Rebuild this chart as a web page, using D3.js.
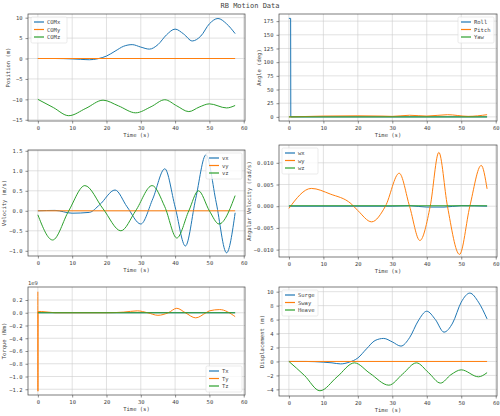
<!DOCTYPE html>
<html><head><meta charset="utf-8">
<script src="https://cdn.jsdelivr.net/npm/d3@7"></script>
<style>body{margin:0;background:#fff}text{font-family:"DejaVu Sans Mono",monospace;fill:#444}</style>
</head><body><svg id="c" width="500" height="416"></svg>
<script>
// series: each with its own sample times (read at extrema / crossings)
var posXT = [0,5,10,12.5,15,17.5,20,22.5,25,27.5,30,32.5,35,37.5,40,42.5,45,47.5,50,52.5,55,57.5];
var posXV = [0,0,-0.1,-0.2,-0.3,-0.05,0.6,1.8,3.0,3.4,2.8,2.3,3.4,5.8,7.2,6.0,4.3,5.5,8.5,9.8,8.5,6.1];
var posYT = [0,57.5], posYV = [0,0];
var posZT = [0,4.5,9,14,19,23.5,28.5,33,37,40.5,44,47,50,55,57.5];
var posZV = [-10,-12,-14,-12.2,-10.2,-11.6,-13.3,-11.8,-10.1,-11.6,-13,-11.9,-11.1,-12.1,-11.5];

var rollT = [0,0.5,0.55,57.5], rollV = [180,180,0,0];
var pitchT = [0,10,20,27,30,35,40,46,52,57.5], pitchV = [0,1.5,2,1.5,1,3,1.5,4,1,4];
var yawT = [0,57.5], yawV = [0,0];

var vxT = [0,5,10,15,18,22.5,26,30,33.5,37,40,43,46,49,52,55,57.5];
var vxV = [0,0.01,-0.06,-0.04,0.15,0.52,0.1,-0.33,0.3,1.05,0.1,-0.88,0.3,1.4,0.2,-1.05,-0.05];
var vyT = [0,57.5], vyV = [0,0];
var vzT = [0,4.3,9,13.7,19,24.2,28.5,33.3,37,40.5,44,46.8,50,52.8,57.5];
var vzV = [-0.1,-0.73,0,0.63,0.05,-0.5,0,0.63,0.1,-0.68,0,0.5,0,-0.33,0.38];

var wxT = [0,30,35,40,45,50,57.5], wxV = [0,0,0.0001,-0.0002,-0.0002,0.0001,0];
var wyT = [0,6.5,12,18,20,24,28,32,35,38,41,43.5,46,49.5,52.5,55.8,57.5];
var wyV = [-0.0005,0.0041,0.0028,0.0006,-0.001,-0.0036,0,0.0076,0,-0.0079,0,0.0124,0,-0.0111,0,0.0094,0.004];
var wzT = [0,57.5], wzV = [0.0001,0.0001];

var txT = [0,57.5], txV = [0,0];
var tyT = [0,0.02,0.05,1,5,20,25,29,32,35,38,40.5,43,46,49,50,53,57.5];
var tyV = [0.33,-1.23,0.02,0.02,0,0,0.01,0.03,0,-0.04,0,0.07,0,-0.08,0,0.03,0.05,-0.06];
var tzT = [0,57.5], tzV = [0,0];

var surgeT = posXT, surgeV = [0,0,-0.1,-0.2,-0.35,-0.1,0.5,1.8,3.0,3.3,2.8,2.2,3.4,5.8,7.2,6.0,4.2,5.5,8.5,9.8,8.5,6.1];
var swayT = [0,57.5], swayV = [0,0];
var heaveT = [0,4.5,9,14,19,23.5,29,33,37,40.5,44,47,50,55,57.5];
var heaveV = [0,-2,-4.2,-2.2,-0.2,-1.7,-3.4,-1.8,-0.2,-1.6,-3.1,-1.9,-1.2,-2.2,-1.6];

var xTicks = [0,10,20,30,40,50,60];
var colors = ["#1f77b4","#ff7f0e","#2ca02c"];

var panels = [
  {box:[28,14,245,121], y:[-15.3,10.9], ticks:[-15,-10,-5,0,5,10], fmt:d3.format("d"), ylab:"Position (m)",
   series:[["COMx",posXT,posXV],["COMy",posYT,posYV],["COMz",posZT,posZV]], leg:"ul"},
  {box:[279,14,497,121], y:[-7.5,188], ticks:[0,25,50,75,100,125,150,175], fmt:d3.format("d"), ylab:"Angle (deg)",
   series:[["Roll",rollT,rollV],["Pitch",pitchT,pitchV],["Yaw",yawT,yawV]], leg:"ur", linear:[0]},
  {box:[28,150,245,256], y:[-1.13,1.52], ticks:[-1,-0.5,0,0.5,1,1.5], fmt:d3.format(".1f"), ylab:"Velocity (m/s)",
   series:[["vx",vxT,vxV],["vy",vyT,vyV],["vz",vzT,vzV]], leg:"ur"},
  {box:[279,145,497,257], y:[-0.0117,0.0141], ticks:[-0.01,-0.005,0,0.005,0.01], fmt:d3.format(".3f"), ylab:"Angular Velocity (rad/s)",
   series:[["wx",wxT,wxV],["wy",wyT,wyV],["wz",wzT,wzV]], leg:"ul"},
  {box:[28,287,245,395], y:[-1.29,0.404], ticks:[-1.2,-1,-0.8,-0.6,-0.4,-0.2,0,0.2], fmt:d3.format(".1f"), ylab:"Torque (Nm)",
   series:[["Tx",txT,txV],["Ty",tyT,tyV],["Tz",tzT,tzV]], leg:"lr", offset:"1e9"},
  {box:[279,287,497,396], y:[-4.95,10.67], ticks:[-4,-2,0,2,4,6,8,10], fmt:d3.format("d"), ylab:"Displacement (m)",
   series:[["Surge",surgeT,surgeV],["Sway",swayT,swayV],["Heave",heaveT,heaveV]], leg:"ul"}
];

var svg = d3.select("#c");
svg.append("text").attr("x",250).attr("y",8).attr("text-anchor","middle").attr("font-size",7).text("RB Motion Data");

panels.forEach(function(p) {
  var b = p.box;
  var x = d3.scaleLinear().domain([-2.875,60.375]).range([b[0],b[2]]);
  var y = d3.scaleLinear().domain(p.y).range([b[3],b[1]]);
  var g = svg.append("g");

  //grid
  g.selectAll(".gx").data(xTicks).enter().append("line")
    .attr("x1",function(d){return x(d);}).attr("x2",function(d){return x(d);})
    .attr("y1",b[1]).attr("y2",b[3]).attr("stroke","#ccc").attr("stroke-width",0.6);
  g.selectAll(".gy").data(p.ticks).enter().append("line")
    .attr("y1",function(d){return y(d);}).attr("y2",function(d){return y(d);})
    .attr("x1",b[0]).attr("x2",b[2]).attr("stroke","#ccc").attr("stroke-width",0.6);

  var ax = g.append("g").attr("transform","translate(0,"+b[3]+")")
    .call(d3.axisBottom(x).tickValues(xTicks).tickSize(2.5).tickFormat(d3.format("d")));
  var ay = g.append("g").attr("transform","translate("+b[0]+",0)")
    .call(d3.axisLeft(y).tickValues(p.ticks).tickSize(2.5).tickFormat(function(d){return p.fmt(d).replace("-","\u2212");}));
  [ax,ay].forEach(function(a){
    a.select(".domain").remove();
    a.selectAll("text").attr("font-size",5.5).style("font-family","DejaVu Sans Mono").attr("fill","#444");
    a.selectAll("line").attr("stroke","#444").attr("stroke-width",0.6);
  });
  g.append("rect").attr("x",b[0]).attr("y",b[1]).attr("width",b[2]-b[0]).attr("height",b[3]-b[1])
    .attr("fill","none").attr("stroke","#444").attr("stroke-width",0.7);

  g.append("text").attr("x",(b[0]+b[2])/2).attr("y",b[3]+16).attr("text-anchor","middle").attr("font-size",5.5).text("Time (s)");
  var maxLen = d3.max(p.ticks, function(d){return p.fmt(d).length;});
  g.append("text").attr("transform","translate("+(b[0]-8-3.4*maxLen)+","+((b[1]+b[3])/2)+") rotate(-90)")
    .attr("text-anchor","middle").attr("font-size",5.5).text(p.ylab);
  if (p.offset) g.append("text").attr("x",b[0]).attr("y",b[1]-2).attr("font-size",5.5).text(p.offset);

  p.series.forEach(function(s,i){
    var pts = s[1].map(function(t,k){return [t,s[2][k]];});
    var curve = (p.linear && p.linear.indexOf(i)>=0) ? d3.curveLinear : d3.curveMonotoneX;
    g.append("path").datum(pts).attr("fill","none").attr("stroke",colors[i]).attr("stroke-width",1)
      .attr("d",d3.line().curve(curve).x(function(d){return x(d[0]);}).y(function(d){return y(d[1]);}));
  });

  //legend
  var lw = 36, lh = 26;
  var lx = p.leg=="ul" ? b[0]+3 : b[2]-lw-3;
  var ly = p.leg=="lr" ? b[3]-lh-3 : b[1]+3;
  var lg = g.append("g").attr("transform","translate("+lx+","+ly+")");
  lg.append("rect").attr("width",lw).attr("height",lh).attr("rx",1.5).attr("fill","#fff").attr("fill-opacity",0.8).attr("stroke","#ddd").attr("stroke-width",0.6);
  p.series.forEach(function(s,i){
    lg.append("line").attr("x1",3).attr("x2",13).attr("y1",5+i*7.5).attr("y2",5+i*7.5).attr("stroke",colors[i]).attr("stroke-width",1.2);
    lg.append("text").attr("x",16).attr("y",7+i*7.5).attr("font-size",5.5).text(s[0]);
  });
});
</script></body></html>
